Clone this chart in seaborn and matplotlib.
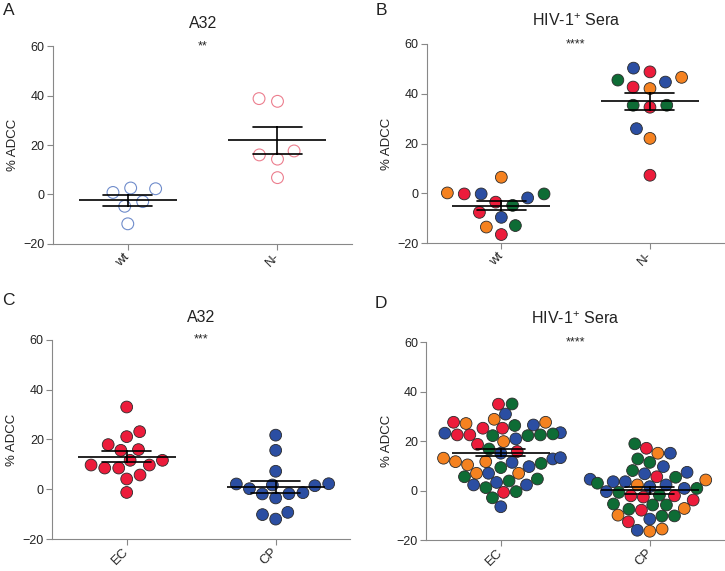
import matplotlib.pyplot as plt
import seaborn as sns
import pandas as pd

# colours of the individual donors / groups
PALETTE = {"red": "#EC1C3B", "blue": "#2B4EA2", "green": "#0E6C35", "orange": "#F58220"}
MARKER_SIZE = 8.5

# A: A32, open circles
a_groups = ["wt", "N-"]
a_wt = [2.6, 0.8, 2.3, -2.9, -4.8, -11.9]
a_nneg = [37.7, 38.8, 16.0, 17.6, 14.3, 6.8]

# B: HIV-1+ sera
b_groups = ["wt", "N-"]
b_wt = [-0.2, -1.8, 0.2, 6.5, -0.2, -0.2, -4.8, -3.5, -7.6, -9.6, -12.9, -13.5, -16.5]
b_wt_col = ["blue", "blue", "orange", "orange", "green", "red", "green", "red",
            "red", "blue", "green", "orange", "red"]
b_nneg = [48.8, 50.3, 45.5, 44.7, 46.6, 42.7, 42.1, 35.4, 34.6, 35.4, 26.0, 22.1, 7.3]
b_nneg_col = ["red", "blue", "green", "blue", "orange", "red", "orange", "green",
              "red", "green", "blue", "orange", "red"]

# C: A32, EC vs CP
c_groups = ["EC", "CP"]
c_ec = [33.0, 23.1, 21.1, 17.9, 15.9, 15.6, 11.6, 11.6, 9.7, 9.7, 8.5, 8.5, 5.7, 4.1, -1.3]
c_cp = [21.7, 15.6, 7.2, 2.1, 1.4, 2.2, 1.7, 0.2, -1.4, -1.9, -1.8, -3.5, -9.3, -10.2, -12.0]

# D: HIV-1+ sera, EC vs CP
d_groups = ["EC", "CP"]
d_ec = [35.0, 34.9, 30.9, 28.8, 27.6, 27.6, 27.1, 26.3, 26.5, 25.2, 25.2,
        23.4, 22.5, 22.2, 23.2, 22.5, 22.2, 22.5, 22.9, 20.9,
        18.7, 19.8, 16.8, 15.1, 15.8,
        13.1, 11.7, 11.4, 9.7, 9.3, 10.4, 11.0, 11.7, 12.8, 13.3,
        7.0, 7.0, 7.0, 4.7, 3.3, 2.3, 1.2, 2.3, 3.9, 5.6,
        -0.7, -2.9, -0.4, -6.5]
d_ec_col = ["green", "red", "blue", "orange", "orange", "red", "orange", "green", "blue", "red", "red",
            "blue", "red", "green", "blue", "red", "green", "green", "green", "blue",
            "red", "orange", "green", "blue", "red",
            "orange", "orange", "blue", "blue", "green", "orange", "green", "orange", "blue", "blue",
            "orange", "orange", "blue", "green", "blue", "blue", "green", "blue", "green", "green",
            "red", "green", "green", "blue"]
d_cp = [18.9, 17.1, 15.1, 15.1, 12.8, 11.4, 9.7, 7.4, 6.8, 8.1,
        5.6, 5.4, 4.6, 3.6, 2.3, 1.6, 0.9, 2.3, 3.0, 3.6, 4.3,
        -0.4, -0.7, 0.9,
        -1.8, -2.1, -2.6, -2.1, -3.8,
        -5.4, -5.8, -7.2, -7.9, -7.5, -5.8,
        -9.9, -10.2, -10.3, -11.5, -12.6, -15.5, -16.4, -16.0]
d_cp_col = ["green", "red", "orange", "blue", "green", "green", "blue", "blue", "blue", "green",
            "red", "green", "blue", "blue", "blue", "blue", "blue", "orange", "green", "blue", "orange",
            "blue", "green", "green",
            "green", "red", "red", "red", "red",
            "green", "green", "orange", "red", "green", "green",
            "orange", "green", "green", "blue", "red", "orange", "orange", "blue"]


def make_df(groups, first, second, first_col=None, second_col=None):
    df = pd.DataFrame({
        "group": [groups[0]] * len(first) + [groups[1]] * len(second),
        "adcc": first + second,
    })
    if first_col is not None:
        df["donor"] = first_col + second_col
    return df


def draw_panel(ax, df, order, title, stars, hue, palette, layout_size, open_markers=False):
    # the swarm is laid out with layout_size, markers are resized afterwards
    sns.swarmplot(data=df, x="group", y="adcc", order=order, hue=hue, palette=palette,
                  size=layout_size, linewidth=0.6, edgecolor="#2a2a2a", legend=False,
                  ax=ax, zorder=2)
    if open_markers:
        for coll in ax.collections:
            fc = coll.get_facecolors()
            coll.set_edgecolors(fc)
            coll.set_facecolors("none")
            coll.set_linewidth(0.8)
    sns.pointplot(data=df, x="group", y="adcc", order=order, errorbar="se", capsize=0.33,
                  color="black", marker="_", markersize=70, markeredgewidth=1.2,
                  linestyle="none", err_kws={"linewidth": 1.2}, ax=ax, zorder=3)
    ax.set_xlim(-0.5, 1.5)
    ax.set_ylim(-20, 60)
    ax.set_yticks([-20, 0, 20, 40, 60])
    ax.set_xlabel("")
    ax.set_ylabel("% ADCC", fontsize=9.5, color="#222222", labelpad=3)
    ax.set_title(title, fontsize=11.5, pad=13, color="#222222")
    ax.text(0.5, 1.0, stars, transform=ax.transAxes, ha="center", va="center", fontsize=9)
    for lab in ax.get_xticklabels():
        lab.set_rotation(45)
        lab.set_ha("right")
        lab.set_va("center")
        lab.set_rotation_mode("anchor")
        lab.set_fontsize(9.5)
    ax.tick_params(axis="both", colors="#888888", labelcolor="#222222", length=4, width=0.8)
    ax.tick_params(axis="y", labelsize=9, pad=2)
    ax.tick_params(axis="x", pad=4)
    for side in ["left", "bottom"]:
        ax.spines[side].set_color("#888888")
        ax.spines[side].set_linewidth(0.8)
    sns.despine(ax=ax)


sns.set_style("ticks")
plt.rcParams["font.family"] = ["Liberation Sans", "DejaVu Sans"]
plt.rcParams["mathtext.default"] = "regular"

fig = plt.figure(figsize=(7.25, 5.71), dpi=100)
ax_a = fig.add_axes([0.073, 0.573, 0.413, 0.346])
ax_b = fig.add_axes([0.589, 0.574, 0.410, 0.349])
ax_c = fig.add_axes([0.072, 0.056, 0.411, 0.349])
ax_d = fig.add_axes([0.588, 0.054, 0.411, 0.347])

draw_panel(ax_a, make_df(a_groups, a_wt, a_nneg), a_groups, "A32", "**",
           "group", {"wt": "#6F8CCB", "N-": "#EC7E8E"}, 12, open_markers=True)
draw_panel(ax_b, make_df(b_groups, b_wt, b_nneg, b_wt_col, b_nneg_col), b_groups,
           "HIV-1$^{+}$ Sera", "****", "donor", PALETTE, 11)
draw_panel(ax_c, make_df(c_groups, c_ec, c_cp), c_groups, "A32", "***",
           "group", {"EC": PALETTE["red"], "CP": PALETTE["blue"]}, 9)
draw_panel(ax_d, make_df(d_groups, d_ec, d_cp, d_ec_col, d_cp_col), d_groups,
           "HIV-1$^{+}$ Sera", "****", "donor", PALETTE, 8)

# freeze the swarm positions, then give every marker the same display size
fig.canvas.draw()
for ax in [ax_a, ax_b, ax_c, ax_d]:
    for coll in ax.collections:
        if "draw" in coll.__dict__:
            del coll.draw
        coll.set_sizes([MARKER_SIZE ** 2])

for letter, x, y in [("A", 0.012, 0.981), ("B", 0.526, 0.981), ("C", 0.012, 0.473), ("D", 0.526, 0.468)]:
    fig.text(x, y, letter, fontsize=12.5, color="#222222", ha="center", va="center")

fig.savefig("out.png", dpi=100)
plt.close(fig)
